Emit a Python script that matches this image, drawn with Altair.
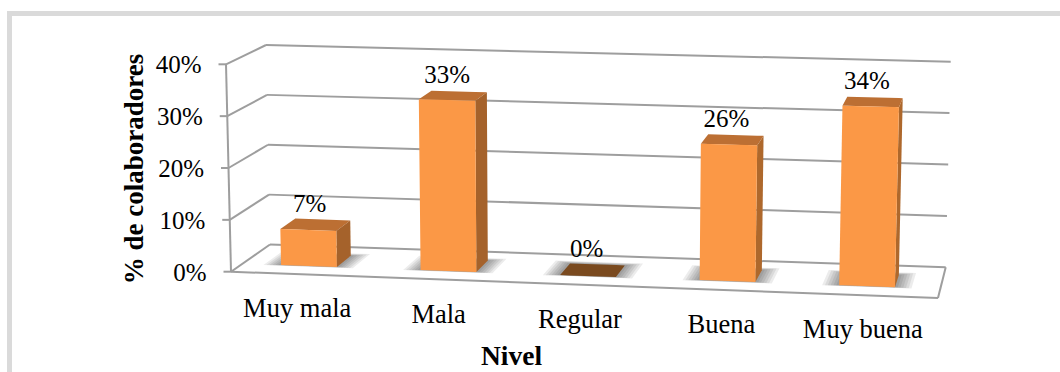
import altair as alt
import pandas as pd

# Chart values
niveles = ["Muy mala", "Mala", "Regular", "Buena", "Muy buena"]
porcentajes = [7, 33, 0, 26, 34]
ticks_y = [0, 10, 20, 30, 40]

W, H = 1060, 372
FONT = "Liberation Serif"

# Corners of the 3D box on the page: (side, value level, depth)
BOX = {
    (0, 0, 0): (231.0, 271.7), (0, 1, 0): (226.0, 64.3),
    (1, 0, 0): (938.0, 298.0), (1, 1, 0): (943.5, 83.0),
    (0, 0, 1): (270.0, 244.5), (0, 1, 1): (266.0, 45.0),
    (1, 0, 1): (945.7, 267.3), (1, 1, 1): (950.7, 61.7),
}
VMAX = 40.0


def project(c, v, d):
    """Trilinear mapping of category position, value and depth to page coordinates."""
    t = v / VMAX
    x = y = 0.0
    for (a, b, e), (px, py) in BOX.items():
        w = (c if a else 1 - c) * (t if b else 1 - t) * (d if e else 1 - d)
        x += w * px
        y += w * py
    return x, y


def polygon_rows(points, face, fill):
    """Split a convex polygon into x / y / y2 rows usable by an area mark."""
    rows = []
    n = len(points)
    for x in sorted({p[0] for p in points}):
        ys = []
        for i in range(n):
            (x0, y0), (x1, y1) = points[i], points[(i + 1) % n]
            if min(x0, x1) <= x <= max(x0, x1):
                if x0 == x1:
                    ys += [y0, y1]
                else:
                    ys.append(y0 + (y1 - y0) * (x - x0) / (x1 - x0))
        rows.append({"x": x, "y": min(ys), "y2": max(ys), "face": face, "fill": fill})
    return rows


BAR_W, D0, D1 = 0.08, 0.3, 0.7
BAR_SHIFT = -0.005
SHADOW_STEPS = 6
bar_rows, shadow_rows, value_rows = [], [], []
for i, (nivel, v) in enumerate(zip(niveles, porcentajes)):
    cc = (i + 0.5) / len(niveles) + BAR_SHIFT
    c0, c1 = cc - BAR_W / 2, cc + BAR_W / 2
    # Soft floor shadow built from nested translucent footprints
    for s in range(SHADOW_STEPS):
        ec = 0.004 * (s + 1)
        ed = 0.014 * (s + 1)
        shadow_rows += polygon_rows(
            [project(c0 - ec, 0, D0 - ed * 0.3), project(c1 + ec, 0, D0 - ed * 0.3),
             project(c1 + ec, 0, D1 + ed), project(c0 - ec, 0, D1 + ed)],
            f"s{i}-{s}", "#000000")
    top = "#7A4A1F" if v == 0 else "#BC6F33"
    bar_rows += polygon_rows(
        [project(c0, v, D0), project(c1, v, D0), project(c1, v, D1), project(c0, v, D1)],
        f"t{i}", top)
    if v > 0:
        side = "#A5622B" if i < 3 else "#AE682C"
        bar_rows += polygon_rows(
            [project(c1, 0, D0), project(c1, v, D0), project(c1, v, D1), project(c1, 0, D1)],
            f"r{i}", side)
        bar_rows += polygon_rows(
            [project(c0, 0, D0), project(c1, 0, D0), project(c1, v, D0), project(c0, v, D0)],
            f"f{i}", "#FB9846")
    lx, ly = project(cc, v, 0.5)
    value_rows.append({"x": lx - 6, "y": ly - 21, "text": f"{v}%"})

# Wall, floor and tick segments
grid_rows = []


def seg(a, b):
    grid_rows.append({"x": a[0], "y": a[1], "x2": b[0], "y2": b[1]})


tick_label_rows = []
for t in ticks_y:
    front, back, right = project(0, t, 0), project(0, t, 1), project(1, t, 1)
    seg(front, back)
    seg(back, right)
    seg((front[0] - 7.5, front[1]), front)
    tick_label_rows.append({"x": front[0] - 24.5, "y": front[1] + 1, "text": f"{t}%"})
seg(project(0, 0, 0), project(0, VMAX, 0))
seg(project(0, 0, 0), project(1, 0, 0))
seg(project(1, 0, 0), project(1, 0, 1))

cat_rows = []
for i, nivel in enumerate(niveles):
    px, py = project((i + 0.5) / len(niveles), 0, 0)
    cat_rows.append({"x": px - 4.5, "y": py + 35, "text": nivel})

frame_rows = [
    {"x": 7, "x2": W, "y": 11, "y2": 16},
    {"x": 7, "x2": 12, "y": 11, "y2": H},
]

xs = alt.Scale(domain=[0, W], range=[0, W], nice=False, zero=False)
ys = alt.Scale(domain=[0, H], range=[0, H], nice=False, zero=False)
X = alt.X("x:Q", scale=xs, axis=None)
Y = alt.Y("y:Q", scale=ys, axis=None, stack=None)

frame = alt.Chart(pd.DataFrame(frame_rows)).mark_rect(color="#DADADA").encode(
    X, Y, x2="x2:Q", y2="y2:Q")
grid = alt.Chart(pd.DataFrame(grid_rows)).mark_rule(color="#9E9E9E", strokeWidth=2).encode(
    X, Y, x2="x2:Q", y2="y2:Q")
shadows = alt.Chart(pd.DataFrame(shadow_rows)).mark_area(
    color="#000000", opacity=0.075, interpolate="linear", orient="vertical").encode(
    X, Y, y2="y2:Q", detail="face:N")
bars = alt.Chart(pd.DataFrame(bar_rows)).mark_area(interpolate="linear", orient="vertical").encode(
    X, Y, y2="y2:Q", detail="face:N",
    color=alt.Color("fill:N", scale=None))


def text_layer(rows, size, **kw):
    return alt.Chart(pd.DataFrame(rows)).mark_text(
        font=FONT, fontSize=size, color="#000000", baseline="middle", **kw
    ).encode(X, Y, text="text:N")


values = text_layer(value_rows, 25, align="center")
tick_labels = text_layer(tick_label_rows, 25, align="right")
cats = text_layer(cat_rows, 26.5, align="center")
title_y = text_layer([{"x": 135, "y": 169, "text": "% de colaboradores"}], 27,
                     align="center", angle=270, fontWeight="bold")
title_x = text_layer([{"x": 511.5, "y": 356.5, "text": "Nivel"}], 27.5,
                     align="center", fontWeight="bold")

chart = alt.layer(frame, grid, shadows, bars, values, tick_labels, cats, title_y, title_x).properties(
    width=W, height=H, padding=0, background="white",
    autosize=alt.AutoSizeParams(type="none"),
).configure_view(stroke=None)

chart.save("out.html", embed_options={"renderer": "svg", "actions": False})
